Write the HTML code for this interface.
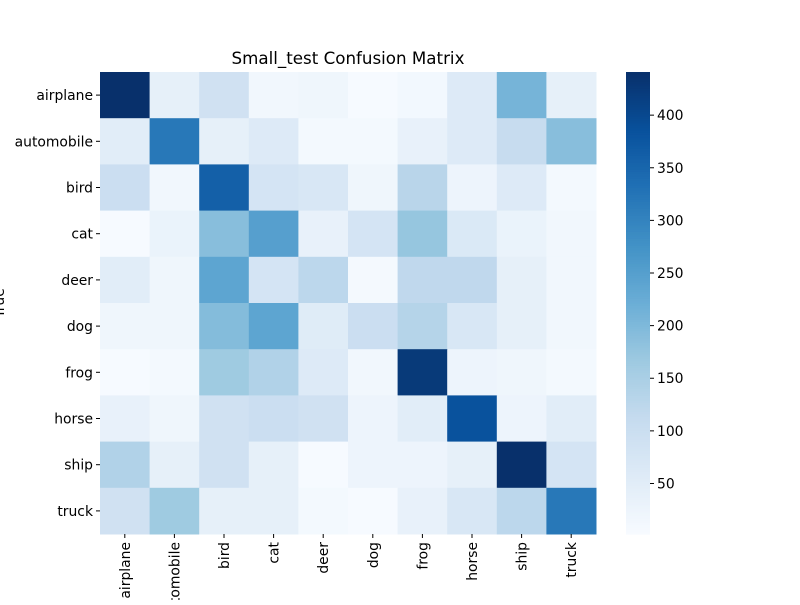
<!DOCTYPE html>
<html><head><meta charset="utf-8"><style>
body{margin:0;background:#fff;}
svg text{font-family:"DejaVu Sans","Liberation Sans",sans-serif;}
</style></head><body>
<svg id="c" width="800" height="600" xmlns="http://www.w3.org/2000/svg">
<text x="348" y="64" text-anchor="middle" font-size="16.7">Small_test Confusion Matrix</text>
<text x="4" y="303" text-anchor="middle" font-size="13.9" transform="rotate(-90 4 303)">True</text>
<g id="cells"></g><g id="xt"></g><g id="yt"></g><g id="cb"></g>
</svg>
<script>
const labels=["airplane","automobile","bird","cat","deer","dog","frog","horse","ship","truck"];
const row0=[441,40,90,15,20,5,12,60,210,40];
const row1=[50,320,40,60,10,10,35,60,110,190];
const row2=[100,15,360,80,70,20,130,25,60,10];
const row3=[5,30,190,250,35,80,175,65,30,15];
const row4=[50,20,240,80,125,8,120,120,40,15];
const row5=[20,20,195,240,55,100,135,70,40,15];
const row6=[5,10,165,140,60,15,425,25,20,10];
const row7=[35,20,90,100,90,25,50,385,25,50];
const row8=[140,40,90,40,5,25,25,40,441,80];
const row9=[90,165,40,40,10,5,35,70,125,320];
const matrix=[row0,row1,row2,row3,row4,row5,row6,row7,row8,row9];
const cbTicks=[50,100,150,200,250,300,350,400];
const vmin=2,vmax=441;
const NS="http://www.w3.org/2000/svg";
const X0=100,X1=596,Y0=72,Y1=534;
const cw=(X1-X0)/labels.length,ch=(Y1-Y0)/labels.length;
const stops=["#f7fbff","#deebf7","#c6dbef","#9ecae1","#6baed6","#4292c6","#2171b5","#08519c","#08306b"].map(h=>[1,3,5].map(i=>parseInt(h.substr(i,2),16)));
function color(v){let t=Math.max(0,Math.min(1,(v-vmin)/(vmax-vmin)))*(stops.length-1);let i=Math.min(stops.length-2,Math.floor(t)),f=t-i;const c=stops[i].map((a,k)=>Math.round(a+(stops[i+1][k]-a)*f));return `rgb(${c})`;}
function mk(tag,at,parent){const e=document.createElementNS(NS,tag);for(const k in at)e.setAttribute(k,at[k]);parent.appendChild(e);return e;}
const cells=document.getElementById('cells');
matrix.forEach((r,i)=>r.forEach((v,j)=>{const e=mk('rect',{x:X0+j*cw,y:Y0+i*ch,width:cw+0.5,height:ch+0.5,fill:color(v)},cells);

}));
const xt=document.getElementById('xt'),yt=document.getElementById('yt');
labels.forEach((l,i)=>{const cx=X0+(i+0.5)*cw;mk('line',{x1:cx,y1:Y1,x2:cx,y2:Y1+4,stroke:'#000'},xt);
const t=mk('text',{x:cx+5,y:Y1+8,'font-size':13.9,'text-anchor':'end',transform:`rotate(-90 ${cx+5} ${Y1+8})`},xt);t.textContent=l;


const cy=Y0+(i+0.5)*ch;mk('line',{x1:X0-4,y1:cy,x2:X0,y2:cy,stroke:'#000'},yt);
const u=mk('text',{x:X0-7,y:cy+5,'font-size':13.9,'text-anchor':'end'},yt);u.textContent=l;

});
const cb=document.getElementById('cb');const CX=626,CW=24;
for(let k=0;k<200;k++){const v=vmin+(vmax-vmin)*(k+0.5)/200;mk('rect',{x:CX,y:Y1-(k+1)*(Y1-Y0)/200,width:CW,height:(Y1-Y0)/200+0.6,fill:color(v)},cb);}
cbTicks.forEach(v=>{const y=Y1-(v-vmin)/(vmax-vmin)*(Y1-Y0);mk('line',{x1:CX+CW,y1:y,x2:CX+CW+4,y2:y,stroke:'#000'},cb);
const t=mk('text',{x:CX+CW+7,y:y+5,'font-size':13.9},cb);t.textContent=v;

});
</script>
</body></html>
